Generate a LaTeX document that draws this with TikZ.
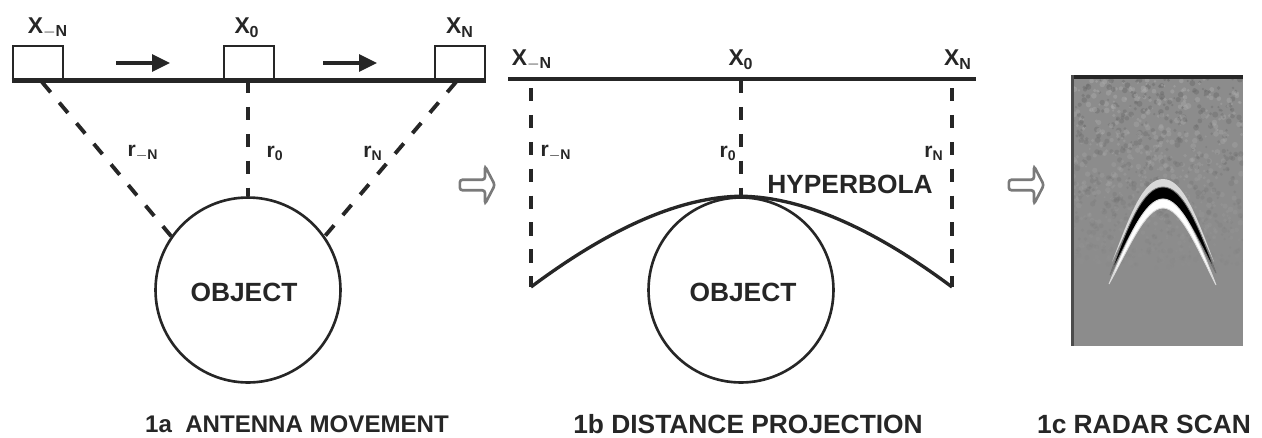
\documentclass[tikz,border=0pt]{standalone}
\usepackage{fontspec}
\setmainfont{Liberation Sans}
\usetikzlibrary{arrows.meta,shapes.arrows}
\definecolor{Ink}{HTML}{262626}
\definecolor{Edge}{HTML}{7A7A7A}
\definecolor{Scan}{HTML}{8C8C8C}
\definecolor{ScanDark}{HTML}{6A6A6A}
\definecolor{ScanLight}{HTML}{ABABAB}

\begin{document}
\begin{tikzpicture}[
  x=0.02cm,y=-0.02cm,
  antenna/.style={draw=Ink,line width=1.6pt,minimum width=1cm,minimum height=0.66cm,inner sep=0pt},
  object/.style={circle,draw=Ink,line width=1.5pt,minimum size=3.7cm,inner sep=0pt},
  objectlabel/.style={font=\bfseries\fontsize{15}{17}\selectfont,text=Ink,inner sep=0pt},
  rail/.style={draw=Ink,line width=2.4pt},
  rangeline/.style={draw=Ink,line width=2.2pt,dash pattern=on 7.65pt off 7.65pt},
  movearrow/.style={-{Triangle[length=3.6mm,width=3.4mm]},draw=Ink,line width=1.9pt},
  xlabel/.style={font=\bfseries\fontsize{13}{15}\selectfont,text=Ink,inner sep=0pt},
  rlabel/.style={font=\bfseries\fontsize{12}{14}\selectfont,text=Ink,inner sep=0pt},
  captionlabel/.style={font=\bfseries\fontsize{15}{17}\selectfont,text=Ink,inner sep=0pt},
  stagearrow/.style={single arrow,draw=Edge,fill=white,line width=1.5pt,minimum width=0.76cm,minimum height=0.7cm,single arrow head extend=0.16cm,single arrow tip angle=125,inner sep=1pt,rounded corners=1.5pt}
]
\useasboundingbox (0,0) rectangle (1262,437);
% 1a
\node[antenna] (al) at (38,62.5) {};
\node[antenna] (ac) at (249,62.5) {};
\node[antenna] (ar) at (460,62.5) {};
\draw[rail] (al.south west) -- (ar.south east);
\node[xlabel] (xal) at (48,28) {X$_{\mathbf{-N}}$};
\node[xlabel] (xac) at (247,28) {X$_{\mathbf{0}}$};
\node[xlabel] (xar) at (460,28) {X$_{\mathbf{N}}$};
\coordinate (ml1) at (116,63);
\coordinate (mr1) at (170,63);
\coordinate (ml2) at (323,63);
\coordinate (mr2) at (377,63);
\draw[movearrow] (ml1) -- (mr1);
\draw[movearrow] (ml2) -- (mr2);
\node[object] (oa) at (248,290) {};
\node[objectlabel] (oat) at (244,292) {OBJECT};
\coordinate (tl) at (42,82);
\coordinate (tc) at (248,80);
\coordinate (tr) at (456,82);
\draw[rangeline] (tl) -- (oa.145);
\draw[rangeline] (tc) -- (oa.north);
\draw[rangeline] (tr) -- (oa.35);
\node[rlabel] (ral) at (143,153) {r$_{\mathbf{-N}}$};
\node[rlabel] (rac) at (275,153) {r$_{\mathbf{0}}$};
\node[rlabel] (rar) at (373,153) {r$_{\mathbf{N}}$};
\node[captionlabel,font=\bfseries\fontsize{13.7}{17}\selectfont] (ca) at (297,424) {1a\ \ ANTENNA MOVEMENT};
% 1b
\coordinate (bl) at (508,79);
\coordinate (br) at (976,79);
\draw[rail] (bl) -- (br);
\node[xlabel] (xbl) at (532,60) {X$_{\mathbf{-N}}$};
\node[xlabel] (xbc) at (741,60) {X$_{\mathbf{0}}$};
\node[xlabel] (xbr) at (958,60) {X$_{\mathbf{N}}$};
\node[object] (ob) at (741,290) {};
\node[objectlabel] (obt) at (743,292) {OBJECT};
\coordinate (dl) at (531,88);
\coordinate (dc) at (741,80);
\coordinate (dr) at (952,88);
\coordinate (el) at (531,287);
\coordinate (er) at (952,287);
\draw[rangeline] (dl) -- (el);
\draw[rangeline] (dc) -- (ob.north);
\draw[rangeline] (dr) -- (er);
\draw[draw=Ink,line width=1.9pt] (el) .. controls (610,228) and (680,197) .. (ob.north) .. controls (802,197) and (873,228) .. (er);
\node[rlabel] (rbl) at (556,153) {r$_{\mathbf{-N}}$};
\node[rlabel] (rbc) at (728,153) {r$_{\mathbf{0}}$};
\node[rlabel] (rbr) at (934,153) {r$_{\mathbf{N}}$};
\node[xlabel,font=\bfseries\fontsize{15}{17}\selectfont] (hyp) at (850,184) {HYPERBOLA};
\node[captionlabel] (cb) at (748,424) {1b DISTANCE PROJECTION};
% stage arrows
\node[stagearrow] (sa) at (476,185) {};
\node[stagearrow] (sb) at (1025,185) {};
% 1c
\fill[Scan] (1071,76) rectangle (1243,346);
\begin{scope}
\clip (1071,76) rectangle (1243,346);
\pgfmathsetseed{7}
\foreach \i in {1,...,1100}{
  \pgfmathsetmacro{\px}{1071+172*rnd}
  \pgfmathsetmacro{\py}{78+190*rnd}
  \pgfmathsetmacro{\pr}{1+2*rnd}
  \pgfmathsetmacro{\pa}{0.5*(1-(\py-78)/200)}
  \pgfmathtruncatemacro{\pk}{rnd>0.5?1:0}
  \ifnum\pk=1
    \fill[ScanDark,opacity=\pa] (\px,\py) circle (\pr);
  \else
    \fill[ScanLight,opacity=\pa] (\px,\py) circle (\pr);
  \fi
}
\end{scope}
\fill[black!85] (1071,75) rectangle (1243,79);
\fill[black!70] (1071,75) rectangle (1074,346);
% hyperbola in the scan
\fill[gray!30] (1112,262) .. controls (1130,215) and (1143,179) .. (1163,179) .. controls (1183,179) and (1196,215) .. (1214,262) .. controls (1196,222) and (1181,190) .. (1163,190) .. controls (1145,190) and (1130,222) .. (1112,262) -- cycle;
\filldraw[fill=black,draw=black!55,line width=0.5pt] (1110,275) .. controls (1128,225) and (1143,187) .. (1163,187) .. controls (1183,187) and (1198,225) .. (1216,273) .. controls (1198,240) and (1181,199) .. (1163,199) .. controls (1145,199) and (1128,240) .. (1110,275) -- cycle;
\filldraw[fill=white,draw=white!70!gray,line width=0.5pt] (1109,284) .. controls (1128,238) and (1145,199) .. (1163,199) .. controls (1181,199) and (1198,238) .. (1216,285) .. controls (1198,250) and (1181,208) .. (1163,208) .. controls (1145,208) and (1128,250) .. (1109,284) -- cycle;
\node[captionlabel] (cc) at (1144,424) {1c RADAR SCAN};
\end{tikzpicture}
\end{document}
